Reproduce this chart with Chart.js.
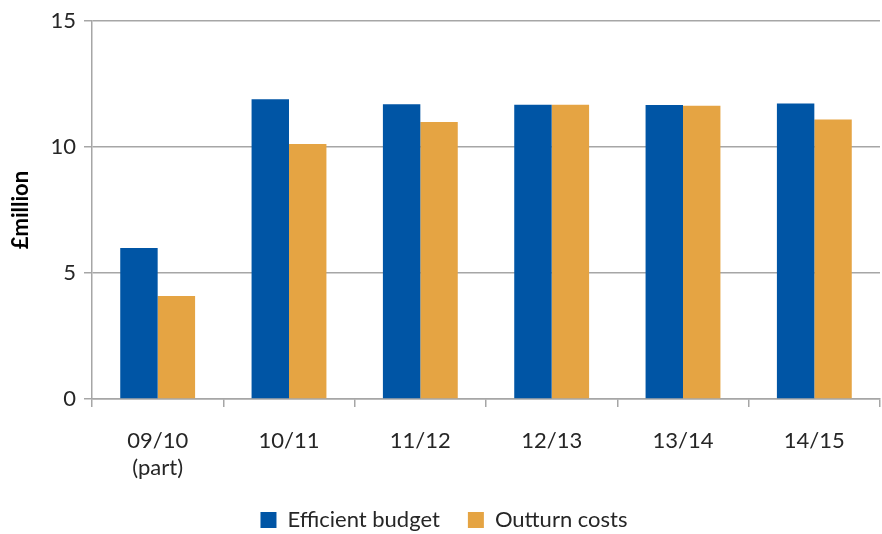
<!DOCTYPE html>
<html lang="en">
  <head>
    <meta charset="UTF-8" />
    <title>Efficient budget vs outturn costs</title>
    <style>
      html, body { margin: 0; padding: 0; background: #fff; }
      .chart-box { width: 882px; height: 534px; }
    </style>
  </head>
  <body>
    <div class="chart-box">
      <canvas id="mychart"></canvas>
    </div>

    <script src="https://cdn.jsdelivr.net/npm/chart.js@4/dist/chart.umd.min.js"></script>
    <script>
      // data
      const years = [["09/10", "(part)"], "10/11", "11/12", "12/13", "13/14", "14/15"];
      const efficientBudget = [6.0, 11.9, 11.7, 11.68, 11.67, 11.73];
      const outturnCosts = [4.09, 10.12, 11.0, 11.68, 11.64, 11.1];
      const yTicks = [0, 5, 10, 15];

      const txt = "#262626";
      const gridCol = "#a6a6a6";
      const font = "Lato, 'Open Sans', sans-serif";

      new Chart(document.getElementById("mychart"), {
        type: "bar",
        data: {
          labels: years,
          datasets: [
            {
              label: "Efficient budget",
              data: efficientBudget,
              backgroundColor: "#0055a5",
              categoryPercentage: 0.57,
              barPercentage: 1,
            },
            {
              label: "Outturn costs",
              data: outturnCosts,
              backgroundColor: "#e5a443",
              categoryPercentage: 0.57,
              barPercentage: 1,
            },
          ],
        },
        options: {
          responsive: true,
          maintainAspectRatio: false,
          animation: false,
          // negative bottom padding pushes the legend row down near the edge
          layout: { padding: { top: 6, right: 2, left: 8, bottom: -7 } },
          plugins: {
            legend: {
              position: "bottom",
              labels: {
                color: txt,
                font: { family: font, size: 22 },
                boxWidth: 16,
                boxHeight: 16,
                padding: 28,
              },
            },
            tooltip: { enabled: false },
          },
          scales: {
            x: {
              afterFit: (axis) => {
                axis.height = 82;
              },
              grid: {
                drawOnChartArea: false,
                color: gridCol,
                tickLength: 8,
                lineWidth: 1.5,
              },
              border: { color: gridCol, width: 1.5 },
              ticks: {
                color: txt,
                font: { family: font, size: 22, lineHeight: 1.25 },
                padding: 20,
                maxRotation: 0,
              },
            },
            y: {
              min: 0,
              max: 15,
              afterBuildTicks: (axis) => {
                axis.ticks = yTicks.map((v) => ({ value: v }));
              },
              afterFit: (axis) => {
                axis.width = 84;
              },
              grid: {
                color: gridCol,
                tickLength: 8,
                lineWidth: 1.5,
              },
              border: { color: gridCol, width: 1.5 },
              ticks: {
                color: txt,
                font: { family: font, size: 22 },
                padding: 8,
              },
              title: {
                display: true,
                text: "£million",
                color: "#000",
                font: { family: font, size: 22, weight: "bold" },
                padding: 0,
              },
            },
          },
        },
      });
    </script>
  </body>
</html>
